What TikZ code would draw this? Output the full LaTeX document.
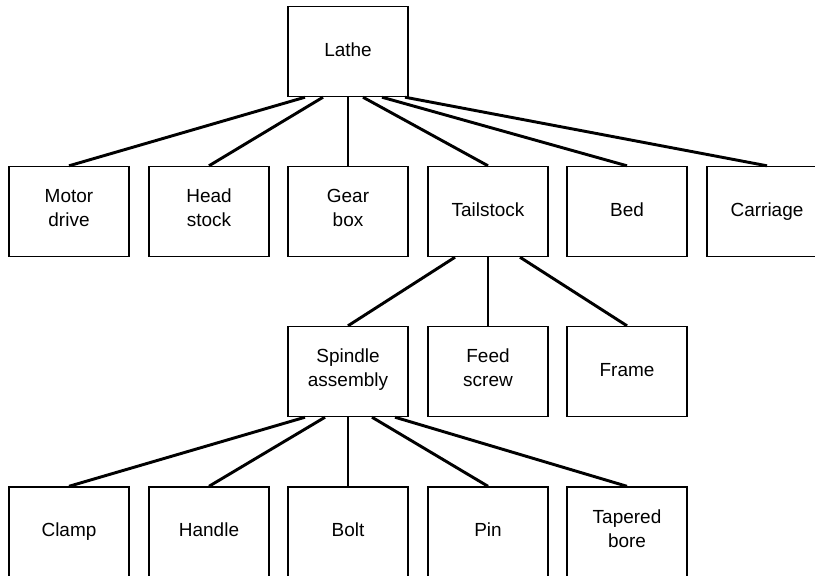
\documentclass[tikz,border=0pt]{standalone}
\usepackage{fontspec}
\setmainfont{Liberation Sans}
\usepackage{tikz}
\usetikzlibrary{positioning}

\tikzset{
  part/.style={draw, rectangle, line width=1.2pt, minimum width=3.6cm, minimum height=2.7cm,
    align=center, font=\fontsize{16.2}{20.5}\selectfont,
    execute at begin node=\strut, execute at end node=\strut},
  link/.style={line width=2.5pt}
}

\begin{document}
\begin{tikzpicture}[x=0.03cm, y=-0.03cm]
\useasboundingbox (0,0) rectangle (815,575);
\clip (0,0) rectangle (815,575);

% top level
\node[part] (lathe) at (348,51.5) {Lathe};

% main units
\node[part] (motor) at (69,211.5) {Motor\\drive};
\node[part] (head) at (209,211.5) {Head\\stock};
\node[part] (gear) at (348,211.5) {Gear\\box};
\node[part] (tail) at (488,211.5) {Tailstock};
\node[part] (bed) at (627,211.5) {Bed};
\node[part] (carriage) at (767,211.5) {Carriage};

% tailstock parts
\node[part] (spindle) at (348,371.5) {Spindle\\assembly};
\node[part] (feed) at (488,371.5) {Feed\\screw};
\node[part] (frame) at (627,371.5) {Frame};

% spindle assembly parts
\node[part] (clamp) at (69,532) {Clamp};
\node[part] (handle) at (209,532) {Handle};
\node[part] (bolt) at (348,532) {Bolt};
\node[part] (pin) at (488,532) {Pin};
\node[part] (bore) at (627,532) {Tapered\\bore};

\foreach \c/\dx in {motor/-43, head/-25, gear/0, tail/15, bed/34, carriage/57}
  \draw[link] ([xshift=\dx*0.03cm]lathe.south) -- (\c.north);

\foreach \c/\dx in {spindle/-33, feed/0, frame/32}
  \draw[link] ([xshift=\dx*0.03cm]tail.south) -- (\c.north);

\foreach \c/\dx in {clamp/-43, handle/-23, bolt/0, pin/24, bore/47}
  \draw[link] ([xshift=\dx*0.03cm]spindle.south) -- (\c.north);
\end{tikzpicture}
\end{document}
